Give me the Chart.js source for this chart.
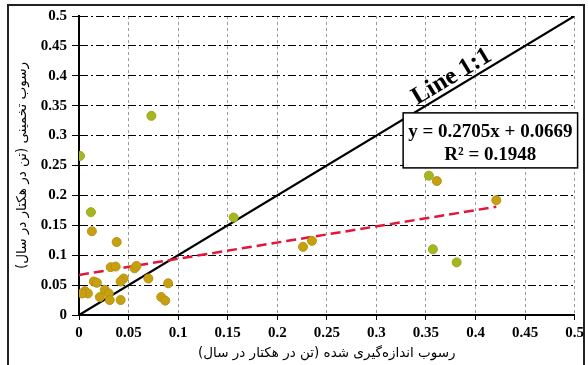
<!DOCTYPE html>
<html>
<head>
<meta charset="utf-8">
<script src="https://cdn.jsdelivr.net/npm/chart.js@4"></script>
<style>
html,body{margin:0;padding:0;background:#fff;}
#wrap{width:588px;height:365px;position:relative;}
</style>
</head>
<body>
<div id="wrap"><canvas id="c" width="588" height="365"></canvas></div>
<script>
// Measured vs estimated sediment (ton/ha/yr)
const greenX = [0.001, 0.073, 0.012, 0.156, 0.353, 0.357, 0.381];
const greenY = [0.266, 0.333, 0.172, 0.163, 0.233, 0.110, 0.088];

const goldX = [0.013, 0.038, 0.032, 0.037, 0.056, 0.058, 0.070, 0.045, 0.042, 0.090, 0.015, 0.018, 0.006, 0.009, 0.003, 0.026, 0.030, 0.021, 0.031, 0.042, 0.083, 0.087, 0.226, 0.235, 0.361, 0.421];
const goldY = [0.140, 0.122, 0.080, 0.081, 0.078, 0.082, 0.061, 0.061, 0.056, 0.053, 0.056, 0.054, 0.040, 0.036, 0.036, 0.042, 0.036, 0.030, 0.025, 0.025, 0.030, 0.024, 0.114, 0.124, 0.224, 0.192];

const lineX = [0, 0.5];
const lineY = [0, 0.5];

const trendX = [0, 0.421];
const trendY = [0.067, 0.181];

const tickValues = [0, 0.05, 0.1, 0.15, 0.2, 0.25, 0.3, 0.35, 0.4, 0.45, 0.5];

const xTitle = 'رسوب اندازه‌گیری شده (تن در هکتار در سال)';
const yTitle = 'رسوب تخمینی (تن در هکتار در سال)';
const eqText = 'y = 0.2705x + 0.0669';
const r2Text = 'R² = 0.1948';
const lineLabel = 'Line 1:1';

const pts = (xs, ys) => xs.map((x, i) => ({x: x, y: ys[i]}));

const tickFont = {family: "'Liberation Serif', 'Times New Roman', serif", size: 15, weight: 'bold'};
const titleFont = {family: "'DejaVu Sans', sans-serif", size: 13.5};

const overlay = {
  id: 'overlay',
  afterDraw(chart) {
    const ctx = chart.ctx;
    const xs = chart.scales.x, ys = chart.scales.y;
    ctx.save();
    // Line 1:1 label along the line
    const px = xs.getPixelForValue(0.382), py = ys.getPixelForValue(0.382);
    const ang = Math.atan2(ys.getPixelForValue(0.5) - ys.getPixelForValue(0), xs.getPixelForValue(0.5) - xs.getPixelForValue(0));
    ctx.translate(px, py);
    ctx.rotate(ang);
    ctx.font = "bold 25px 'Liberation Serif', serif";
    ctx.fillStyle = '#000';
    ctx.textAlign = 'center';
    ctx.textBaseline = 'alphabetic';
    ctx.fillText(lineLabel, 0, -5);
    ctx.restore();

    // Equation box
    ctx.save();
    const bx0 = xs.getPixelForValue(0.327), bx1 = xs.getPixelForValue(0.503);
    const by0 = ys.getPixelForValue(0.338), by1 = ys.getPixelForValue(0.246);
    ctx.fillStyle = '#fff';
    ctx.fillRect(bx0, by0, bx1 - bx0, by1 - by0);
    ctx.strokeStyle = '#000';
    ctx.lineWidth = 1.5;
    ctx.strokeRect(bx0, by0, bx1 - bx0, by1 - by0);
    ctx.fillStyle = '#000';
    ctx.font = "bold 19px 'Liberation Serif', serif";
    ctx.textAlign = 'center';
    ctx.textBaseline = 'middle';
    const cx = (bx0 + bx1) / 2;
    ctx.fillText(eqText, cx, by0 + 19);
    ctx.fillText(r2Text, cx, by0 + 42);
    ctx.restore();

    // outer frame
    ctx.save();
    ctx.strokeStyle = '#222';
    ctx.lineWidth = 2;
    ctx.strokeRect(8, 5, 576, 420);
    ctx.restore();
  }
};

new Chart(document.getElementById('c'), {
  type: 'scatter',
  data: {
    datasets: [
      {
        type: 'line', label: 'Line 1:1', data: pts(lineX, lineY),
        borderColor: '#000', borderWidth: 2.3, pointRadius: 0, fill: false, order: 3
      },
      {
        type: 'line', label: 'Trend', data: pts(trendX, trendY),
        borderColor: '#e2163c', borderWidth: 2.5, borderDash: [10, 5], pointRadius: 0, fill: false, order: 2
      },
      {
        label: 'gold', data: pts(goldX, goldY),
        backgroundColor: '#c6a010', borderColor: '#b89212', borderWidth: 1, pointRadius: 4.5, order: 1
      },
      {
        label: 'green', data: pts(greenX, greenY),
        backgroundColor: '#a6b61e', borderColor: '#9aa81c', borderWidth: 1, pointRadius: 4.5, order: 0
      }
    ]
  },
  options: {
    responsive: false,
    animation: false,
    layout: {padding: {left: 0, top: 16, right: 13, bottom: 0}},
    plugins: {legend: {display: false}, tooltip: {enabled: false}},
    scales: {
      x: {
        type: 'linear', min: 0, max: 0.5,
        afterBuildTicks: s => { s.ticks = tickValues.map(v => ({value: v})); },
        afterFit: s => { s.height = 50; },
        ticks: {font: tickFont, color: '#000', padding: 4, maxRotation: 0,
          callback: v => String(Math.round(v * 100) / 100)},
        grid: {color: '#9a9a9a', lineWidth: 1, tickColor: '#000', tickLength: 5, tickBorderDash: []},
        border: {display: true, color: '#000', width: 2, dash: [3, 3]},
        title: {display: true, text: xTitle, font: titleFont, color: '#000', padding: {top: 10, bottom: 3}}
      },
      y: {
        type: 'linear', min: 0, max: 0.5,
        afterBuildTicks: s => { s.ticks = tickValues.map(v => ({value: v})); },
        afterFit: s => { s.width = 79; },
        ticks: {font: tickFont, color: '#000', padding: 5,
          callback: v => String(Math.round(v * 100) / 100)},
        grid: {color: '#000', lineWidth: 1, tickColor: '#000', tickLength: 7, tickBorderDash: []},
        border: {display: true, color: '#000', width: 2, dash: [8, 3, 2, 3]},
        title: {display: true, text: yTitle, font: titleFont, color: '#000', padding: {top: 14, bottom: 0}}
      }
    }
  },
  plugins: [overlay]
});
</script>
</body>
</html>
